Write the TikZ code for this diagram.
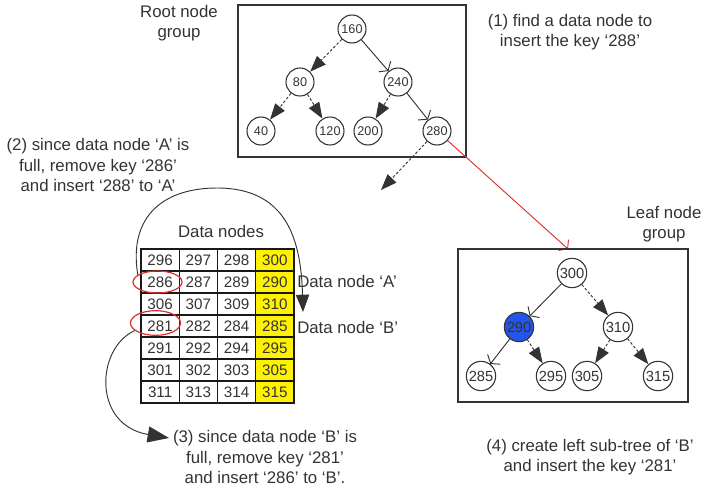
\documentclass[tikz,border=0pt]{standalone}
\usepackage{fontspec}
\setmainfont{Liberation Sans}
\usetikzlibrary{arrows.meta,shapes.geometric}
\definecolor{txt}{gray}{0.2}
\definecolor{ln}{gray}{0.2}
\definecolor{nodeblue}{RGB}{35,85,235}
\definecolor{ringred}{RGB}{225,45,45}
\begin{document}
\begin{tikzpicture}[x=0.75pt,y=-0.75pt,
  lbl/.style={text=txt,font=\fontsize{12.6}{15.3}\selectfont,align=center,inner sep=0},
  tn/.style={circle,draw=ln,line width=0.8pt,minimum size=21pt,inner sep=0,text=txt,font=\fontsize{9.5}{10}\selectfont},
  lfn/.style={circle,draw=ln,line width=0.8pt,minimum size=22pt,inner sep=0,text=txt,font=\fontsize{11}{12}\selectfont},
  grp/.style={draw=ln,line width=1.1pt},
  dashedge/.style={draw=ln,line width=0.7pt,dash pattern=on 2pt off 1.5pt,-{Triangle[length=12pt,width=9pt]}},
  solidedge/.style={draw=ln,line width=0.7pt,-{Straight Barb[length=4pt,width=12pt]}},
  cell/.style={draw=black!90,line width=0.9pt,minimum width=28.69pt,minimum height=16.5pt,inner sep=0,text=txt,font=\fontsize{11.4}{12}\selectfont},
  ycell/.style={cell,fill=yellow},
  ring/.style={ellipse,draw=ringred,line width=0.9pt,inner sep=0},
  bigarrow/.style={draw=ln,line width=0.7pt}
]
\useasboundingbox (0,0) rectangle (707,489);

% ---------- Root node group ----------
\node[grp,minimum width=171pt,minimum height=114pt,inner sep=0] (rootbox) at (352,81) {};
\node[lbl] (rootlbl) at (179,23) {Root node\\group};
\node[lbl] (step1) at (570,32) {(1) find a data node to\\insert the key ‘288’};

\node[tn] (n160) at (352,29) {160};
\node[tn] (n80) at (300,82) {80};
\node[tn] (n240) at (398,82) {240};
\node[tn] (n40) at (261,131) {40};
\node[tn] (n120) at (330,131) {120};
\node[tn] (n200) at (368,131) {200};
\node[tn] (n280) at (437,131) {280};

\draw[dashedge] (n160) -- (n80);
\draw[solidedge] (n160) -- (n240);
\draw[dashedge] (n80) -- (n40);
\draw[dashedge] (n80) -- (n120);
\draw[dashedge] (n240) -- (n200);
\draw[solidedge] (n240) -- (n280);

\coordinate (dtip) at (381,190);
\coordinate (rtip) at (568,249);
\draw[dashedge] (n280) -- (dtip);
\draw[draw=ringred,line width=0.7pt,-{Straight Barb[length=4pt,width=11pt]}] (n280) -- (rtip);

% ---------- Data nodes ----------
\node[lbl] (step2) at (98,165) {(2) since data node ‘A’ is\\full, remove key ‘286’\\and insert ‘288’ to ‘A’};
\node[lbl] (dnlbl) at (221,231) {Data nodes};

\foreach \a/\b/\c/\d [count=\r] in {296/297/298/300,286/287/289/290,306/307/309/310,281/282/284/285,291/292/294/295,301/302/303/305,311/313/314/315}{
  \node[cell] (c\r-1) at (160.125,{249+22*(\r-0.5)}) {\a};
  \node[cell] (c\r-2) at (198.375,{249+22*(\r-0.5)}) {\b};
  \node[cell] (c\r-3) at (236.625,{249+22*(\r-0.5)}) {\c};
  \node[ycell] (c\r-4) at (274.875,{249+22*(\r-0.5)}) {\d};
}

\node[lbl,anchor=west] (dnA) at (297,281) {Data node ‘A’};
\node[lbl,anchor=west] (dnB) at (297,327) {Data node ‘B’};

\node[ring,minimum width=36.75pt,minimum height=16.5pt] (e286) at (157.5,282) {};
\node[ring,minimum width=37.5pt,minimum height=18.5pt] (e281) at (155.5,323) {};

\coordinate (arcend) at (303,312);
\draw[bigarrow,-{Triangle[length=13pt,width=10pt]}] (e286.160) .. controls (128,215) and (165,188) .. (217,188)
   .. controls (287,188) and (301,240) .. (arcend);

\coordinate (tip3) at (169,438);
\draw[bigarrow,-{Triangle[length=16pt,width=12pt]}] (e281.200) .. controls (96,348) and (92,425) .. (tip3);

\node[lbl] (step3) at (265,457) {(3) since data node ‘B’ is\\full, remove key ‘281’\\and insert ‘286’ to ‘B’.};

% ---------- Leaf node group ----------
\node[lbl] (leaflbl) at (664,224) {Leaf node\\group};
\node[grp,minimum width=172.5pt,minimum height=114.75pt,inner sep=0] (leafbox) at (573,325.5) {};

\node[lfn] (m300) at (572,273) {300};
\node[lfn,fill=nodeblue] (m290) at (519,327) {290};
\node[lfn] (m310) at (618,327) {310};
\node[lfn] (m285) at (481,376) {285};
\node[lfn] (m295) at (551,376) {295};
\node[lfn] (m305) at (587,376) {305};
\node[lfn] (m315) at (658,376) {315};

\draw[solidedge] (m300) -- (m290);
\draw[dashedge] (m300) -- (m310);
\draw[solidedge] (m290) -- (m285);
\draw[dashedge] (m290) -- (m295);
\draw[dashedge] (m310) -- (m305);
\draw[dashedge] (m310) -- (m315);

\node[lbl] (step4) at (590,457) {(4) create left sub-tree of ‘B’\\and insert the key ‘281’};
\end{tikzpicture}
\end{document}
